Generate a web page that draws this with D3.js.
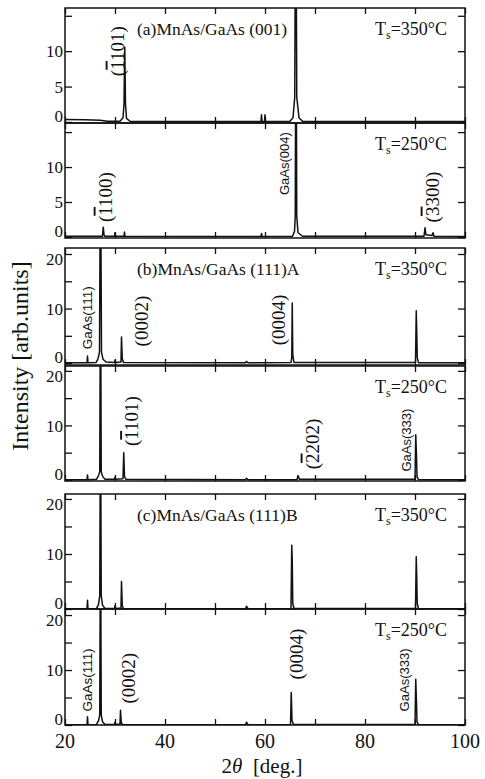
<!DOCTYPE html>
<html><head><meta charset="utf-8">
<script src="https://cdn.jsdelivr.net/npm/d3@7"></script>
<style>body{margin:0;background:#fff}svg{display:block}</style>
</head><body><svg id="c" width="485" height="779"></svg>
<script>
// ---------------- DATA (2θ in degrees, intensity in arb. units) ----------------
const xTicks = [20, 30, 40, 50, 60, 70, 80, 90, 100];
const xTickLabels = [20, 40, 60, 80, 100];
const yTicksA = [0, 5, 10, 15];
const yTickLabelsA = [0, 5, 10];
const yTicksBC = [0, 5, 10, 15, 20];
const yTickLabelsBC = [0, 10, 20];

const seriesA350 = [[20,0.35],[24,0.3],[27,0.25],[28.5,0.1],[31,0.1],[31.6,0.6],[31.8,2.5],[31.95,10.6],[32.1,2.5],[32.3,0.5],[33,0.1],[45,0.05],[59.2,0.05],[59.3,1.0],[59.4,0.05],[59.9,0.05],[60.0,1.0],[60.1,0.05],[65,0.1],[65.6,0.6],[65.95,3.5],[66.15,40],[66.35,3.5],[66.8,0.6],[67.5,0.1],[100,0.05]];
const seriesA250 = [[20,0.1],[27.5,0.1],[27.65,1.4],[27.8,0.3],[28,0.1],[29.9,0.1],[30.0,0.6],[30.1,0.1],[31.8,0.1],[31.9,0.7],[32.0,0.1],[59.2,0.05],[59.3,0.5],[59.4,0.05],[65.5,0.1],[65.9,0.8],[66.05,3],[66.2,40],[66.35,3],[66.6,0.6],[67.5,0.1],[91.8,0.1],[92.0,1.3],[92.2,0.3],[93.4,0.2],[93.6,0.6],[93.8,0.1],[100,0.05]];
const seriesB350 = [[20,0.05],[24.4,0.05],[24.5,1.3],[24.6,0.05],[26.2,0.1],[26.6,0.8],[26.9,2],[27.1,40],[27.3,2],[27.6,0.7],[28.2,0.2],[29.9,0.1],[30.0,0.5],[30.1,0.1],[31.2,0.2],[31.3,4.8],[31.45,0.8],[31.7,0.1],[56.1,0.05],[56.3,0.3],[56.6,0.05],[65.2,0.1],[65.35,1],[65.45,11],[65.55,1.5],[65.8,0.1],[90.1,0.1],[90.25,9.6],[90.35,5.8],[90.45,1],[90.7,0.05],[100,0.05]];
const seriesB250 = [[20,0.05],[24.4,0.05],[24.5,0.9],[24.6,0.05],[26.3,0.1],[26.7,0.8],[26.95,1.5],[27.1,40],[27.25,1.5],[27.5,0.7],[28,0.1],[29.9,0.1],[30.0,0.5],[30.1,0.1],[31.6,0.2],[31.75,5.0],[31.9,0.6],[32.2,0.1],[56.1,0.05],[56.3,0.3],[56.6,0.05],[66.4,0.05],[66.6,0.8],[66.9,0.1],[90.0,0.1],[90.15,8.3],[90.3,4.4],[90.4,0.6],[90.7,0.05],[100,0.05]];
const seriesC350 = [[20,0.05],[24.4,0.05],[24.5,1.6],[24.6,0.05],[26.3,0.1],[26.7,0.8],[26.95,2.4],[27.1,40],[27.25,2.4],[27.5,0.7],[28,0.1],[29.9,0.1],[30.0,0.6],[30.1,0.1],[31.2,0.2],[31.3,5.0],[31.45,0.6],[31.7,0.1],[56.1,0.05],[56.3,0.5],[56.6,0.05],[57,0.05],[65.2,0.1],[65.35,11.6],[65.45,8.9],[65.55,1],[65.8,0.1],[90.1,0.1],[90.25,9.5],[90.35,5.6],[90.45,1],[90.7,0.05],[100,0.05]];
const seriesC250 = [[20,0.05],[24.4,0.05],[24.5,1.5],[24.6,0.05],[26.3,0.1],[26.7,0.8],[26.95,1.8],[27.1,40],[27.25,1.8],[27.5,0.6],[28,0.1],[29.9,0.1],[30.0,0.5],[30.1,0.1],[31.0,0.2],[31.1,2.7],[31.25,0.4],[31.5,0.1],[56.1,0.05],[56.3,0.5],[56.6,0.05],[65.1,0.1],[65.25,5.9],[65.4,0.8],[65.7,0.1],[90.0,0.1],[90.15,8.3],[90.3,4],[90.4,0.6],[90.7,0.05],[100,0.05]];

const titles = ["(a)MnAs/GaAs (001)", "", "(b)MnAs/GaAs (111)A", "", "(c)MnAs/GaAs (111)B", ""];
const temps = ["350", "250", "350", "250", "350", "250"];
// peak labels: text ("-" marks an overbar on the next character), 2θ, intensity, style
const peakLabelsA350 = [["(-1101)", 30.4, 10, "hkl"]];
const peakLabelsA250 = [["(-1100)", 28.0, 5.7, "hkl"], ["GaAs(004)", 64.0, 10.5, "sub"], ["(-3300)", 93.4, 5.7, "hkl"]];
const peakLabelsB350 = [["GaAs(111)", 24.6, 8.3, "sub"], ["(0002)", 35.2, 7.7, "hkl"], ["(0004)", 62.6, 7.9, "hkl"]];
const peakLabelsB250 = [["(-1101)", 33.3, 10.8, "hkl"], ["(-2202)", 69.4, 6.6, "hkl"], ["GaAs(333)", 88.4, 7.3, "sub"]];
const peakLabelsC350 = [];
const peakLabelsC250 = [["GaAs(111)", 24.6, 8.2, "sub"], ["(0002)", 32.6, 8.5, "hkl"], ["(0004)", 66.2, 12.9, "hkl"], ["GaAs(333)", 88.0, 8.2, "sub"]];

// ---------------- LAYOUT ----------------
const W = 485, H = 779;
const left = 65, right = 465;
const panels = [
  {series: seriesA350, labels: peakLabelsA350, top: 8,   bottom: 123, dom: [-0.15, 16.1], ticks: yTicksA,  tl: yTickLabelsA},
  {series: seriesA250, labels: peakLabelsA250, top: 123, bottom: 238, dom: [-0.15, 16.3], ticks: yTicksA,  tl: yTickLabelsA},
  {series: seriesB350, labels: peakLabelsB350, top: 248, bottom: 365, dom: [-0.35, 21.1], ticks: yTicksBC, tl: yTickLabelsBC},
  {series: seriesB250, labels: peakLabelsB250, top: 366, bottom: 481, dom: [-0.2, 20.9],  ticks: yTicksBC, tl: yTickLabelsBC},
  {series: seriesC350, labels: peakLabelsC350, top: 494, bottom: 609, dom: [0, 20.9],     ticks: yTicksBC, tl: yTickLabelsBC},
  {series: seriesC250, labels: peakLabelsC250, top: 609, bottom: 725, dom: [0, 21.1],     ticks: yTicksBC, tl: yTickLabelsBC}
];
const serif = "'Liberation Serif', 'Times New Roman', serif";
const sans = "'Liberation Sans', Arial, sans-serif";

const svg = d3.select("#c");
svg.append("rect").attr("width", W).attr("height", H).attr("fill", "#fff");
const x = d3.scaleLinear().domain([20, 100]).range([left, right]);

panels.forEach((p, i) => {
  const y = d3.scaleLinear().domain(p.dom).range([p.bottom, p.top]);
  const g = svg.append("g");
  const clipId = "clip" + i;
  svg.append("clipPath").attr("id", clipId).append("rect")
    .attr("x", left).attr("y", p.top).attr("width", right - left).attr("height", p.bottom - p.top);

  // curve
  g.append("path").datum(p.series)
    .attr("clip-path", `url(#${clipId})`)
    .attr("d", d3.line().x(d => x(d[0])).y(d => y(d[1])))
    .attr("fill", "none").attr("stroke", "#111").attr("stroke-width", 1.5).attr("stroke-linejoin", "round");

  // axes (inward ticks on all four sides)
  const axB = d3.axisTop(x).tickValues(xTicks).tickSize(6).tickFormat("");
  const axT = d3.axisBottom(x).tickValues(xTicks).tickSize(6).tickFormat("");
  const axL = d3.axisRight(y).tickValues(p.ticks).tickSize(7).tickFormat("");
  const axR = d3.axisLeft(y).tickValues(p.ticks).tickSize(7).tickFormat("");
  [[axB, `translate(0,${p.bottom})`], [axT, `translate(0,${p.top})`], [axL, `translate(${left},0)`], [axR, `translate(${right},0)`]]
    .forEach(([ax, tr]) => {
      const a = g.append("g").attr("transform", tr).call(ax);
      a.select(".domain").remove();
      a.selectAll("line").attr("stroke", "#111").attr("stroke-width", 1.3);
    });
  g.append("rect").attr("x", left).attr("y", p.top).attr("width", right - left).attr("height", p.bottom - p.top)
    .attr("fill", "none").attr("stroke", "#111").attr("stroke-width", 1.5);

  // y tick labels (lowest nudged up, highest nudged down, as in the reference)
  const maxL = d3.max(p.tl);
  g.selectAll(".yl").data(p.tl).enter().append("text")
    .attr("x", left - 2).attr("y", d => y(d) + (d === 0 ? -6 : d === maxL && maxL === 20 ? 5 : 0)).attr("dy", "0.36em")
    .attr("text-anchor", "end").attr("font-family", serif).attr("font-size", 17).attr("fill", "#111")
    .text(d => d);

  // title & temperature
  if (titles[i]) {
    g.append("text").attr("x", 137).attr("y", p.top + 27).attr("font-family", serif).attr("font-size", 17.5)
      .attr("fill", "#111").text(titles[i]);
  }
  const t = g.append("text").attr("x", 375).attr("y", p.top + 27).attr("font-family", serif).attr("font-size", 18).attr("fill", "#111");
  t.append("tspan").text("T");
  t.append("tspan").attr("dy", 4).attr("font-size", 12).text("s");
  t.append("tspan").attr("dy", -4).text("=" + temps[i] + "°C");

  // peak labels (rotated)
  p.labels.forEach(([txt, px, py, kind]) => {
    const el = g.append("text")
      .attr("transform", `translate(${x(px)},${y(py)}) rotate(-90)`)
      .attr("text-anchor", "middle").attr("dy", "0.35em").attr("fill", "#111");
    if (kind === "sub") {
      el.attr("font-family", sans).attr("font-size", 12.5).attr("textLength", 63).attr("lengthAdjust", "spacingAndGlyphs").text(txt);
    } else {
      el.attr("font-family", serif).attr("font-size", 19);
      let bar = false;
      for (const ch of txt) {
        if (ch === "-") { bar = true; continue; }
        const ts = el.append("tspan").text(ch);
        if (bar) { ts.style("text-decoration", "overline"); bar = false; }
      }
    }
  });
});

// x tick labels under the bottom panel
const last = panels[panels.length - 1];
svg.selectAll(".xl").data(xTickLabels).enter().append("text")
  .attr("x", d => x(d)).attr("y", last.bottom + 23).attr("text-anchor", "middle")
  .attr("font-family", serif).attr("font-size", 20).attr("fill", "#111").text(d => d);

// axis titles
const xt = svg.append("text").attr("x", 262).attr("y", 773).attr("text-anchor", "middle")
  .attr("font-family", serif).attr("font-size", 21).attr("fill", "#111").attr("xml:space", "preserve");
xt.append("tspan").text("2");
xt.append("tspan").attr("font-style", "italic").text("θ");
xt.append("tspan").text("  [deg.]");

svg.append("text").attr("transform", "translate(28,356) rotate(-90)").attr("text-anchor", "middle")
  .attr("font-family", serif).attr("font-size", 24).attr("fill", "#111").text("Intensity [arb.units]");
</script></body></html>
